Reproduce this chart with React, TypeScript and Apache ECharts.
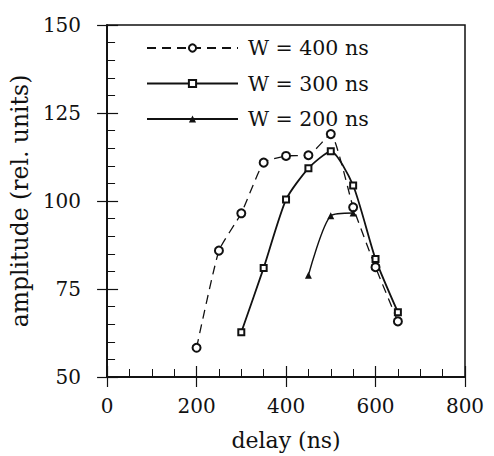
import React, { useEffect, useRef } from "react";
import * as echarts from "echarts";

const delays400 = [200, 250, 300, 350, 400, 450, 500, 550, 600, 650];
const amp400 = [58.3, 85.9, 96.5, 110.9, 112.8, 113.0, 119.0, 98.2, 81.2, 65.8];
const delays300 = [300, 350, 400, 450, 500, 550, 600, 650];
const amp300 = [62.7, 81.0, 100.4, 109.3, 114.1, 104.4, 83.5, 68.4];
const delays200 = [450, 500, 550];
const amp200 = [78.9, 95.8, 96.6];
const seriesNames = ["W = 400 ns", "W = 300 ns", "W = 200 ns"];
const xTitle = "delay (ns)";
const yTitle = "amplitude (rel. units)";

const FONT = "DejaVu Serif";
const INK = "#111";

export default function App() {
  const ref = useRef<HTMLDivElement>(null);
  useEffect(() => {
    if (!ref.current) return;
    const chart = echarts.init(ref.current, undefined, { renderer: "svg" });
    const zip = (xs: number[], ys: number[]) => xs.map((x, i) => [x, ys[i]]);
    const xBase = {
      type: "value" as const,
      min: 0,
      max: 800,
      interval: 200,
      splitLine: { show: false },
      axisLine: { show: true, lineStyle: { color: INK, width: 1.5 } },
    };
    const yBase = {
      type: "value" as const,
      min: 50,
      max: 150,
      interval: 25,
      splitLine: { show: false },
      axisLine: { show: true, lineStyle: { color: INK, width: 1.5 } },
    };
    chart.setOption({
      animation: false,
      backgroundColor: "#fff",
      grid: {
        left: 107,
        right: 29,
        top: 25,
        bottom: 78,
        show: true,
        borderColor: INK,
        borderWidth: 1.5,
        backgroundColor: "transparent",
      },
      xAxis: [
        {
          ...xBase,
          axisTick: { show: true, inside: true, length: 11, lineStyle: { color: INK, width: 1.2 } },
          minorTick: { show: true, splitNumber: 4, length: 8, lineStyle: { color: INK, width: 1 } },
          axisLabel: { color: INK, fontFamily: FONT, fontSize: 20, margin: 19 },
          name: xTitle,
          nameLocation: "middle",
          nameGap: 52,
          nameTextStyle: { color: INK, fontFamily: FONT, fontSize: 22 },
        },
        {
          ...xBase,
          position: "bottom",
          axisTick: { show: true, inside: false, length: 10, lineStyle: { color: INK, width: 1.2 } },
          axisLabel: { show: false },
        },
      ],
      yAxis: [
        {
          ...yBase,
          axisTick: { show: true, inside: true, length: 11, lineStyle: { color: INK, width: 1.2 } },
          minorTick: { show: true, splitNumber: 5, length: 8, lineStyle: { color: INK, width: 1 } },
          axisLabel: { color: INK, fontFamily: FONT, fontSize: 20, margin: 26 },
          name: yTitle,
          nameLocation: "middle",
          nameGap: 73,
          nameTextStyle: { color: INK, fontFamily: FONT, fontSize: 23.5 },
        },
        {
          ...yBase,
          position: "left",
          axisTick: { show: true, inside: false, length: 10, lineStyle: { color: INK, width: 1.2 } },
          axisLabel: { show: false },
        },
      ],
      legend: {
        orient: "vertical",
        left: 141,
        top: 32,
        itemWidth: 91,
        itemHeight: 9,
        itemGap: 13.5,
        textStyle: { color: INK, fontFamily: FONT, fontSize: 20.5, lineHeight: 22, padding: [0, 0, 0, 5] },
        data: seriesNames,
      },
      series: [
        {
          name: seriesNames[0],
          type: "line",
          data: zip(delays400, amp400),
          smooth: 0.15,
          symbol: "emptyCircle",
          symbolSize: 8,
          lineStyle: { color: INK, width: 1.3, type: [9, 6] },
          itemStyle: { color: INK, borderWidth: 1.2 },
        },
        {
          name: seriesNames[1],
          type: "line",
          data: zip(delays300, amp300),
          smooth: 0.22,
          symbol: "emptyRect",
          symbolSize: 6,
          lineStyle: { color: INK, width: 1.8 },
          itemStyle: { color: INK, borderWidth: 1.2 },
        },
        {
          name: seriesNames[2],
          type: "line",
          data: zip(delays200, amp200),
          smooth: 0.25,
          symbol: "triangle",
          symbolSize: 7,
          lineStyle: { color: INK, width: 1.4 },
          itemStyle: { color: INK },
        },
      ],
    });
    return () => chart.dispose();
  }, []);
  return <div ref={ref} style={{ width: 494, height: 456, position: "absolute", left: 0, top: 0 }} />;
}
